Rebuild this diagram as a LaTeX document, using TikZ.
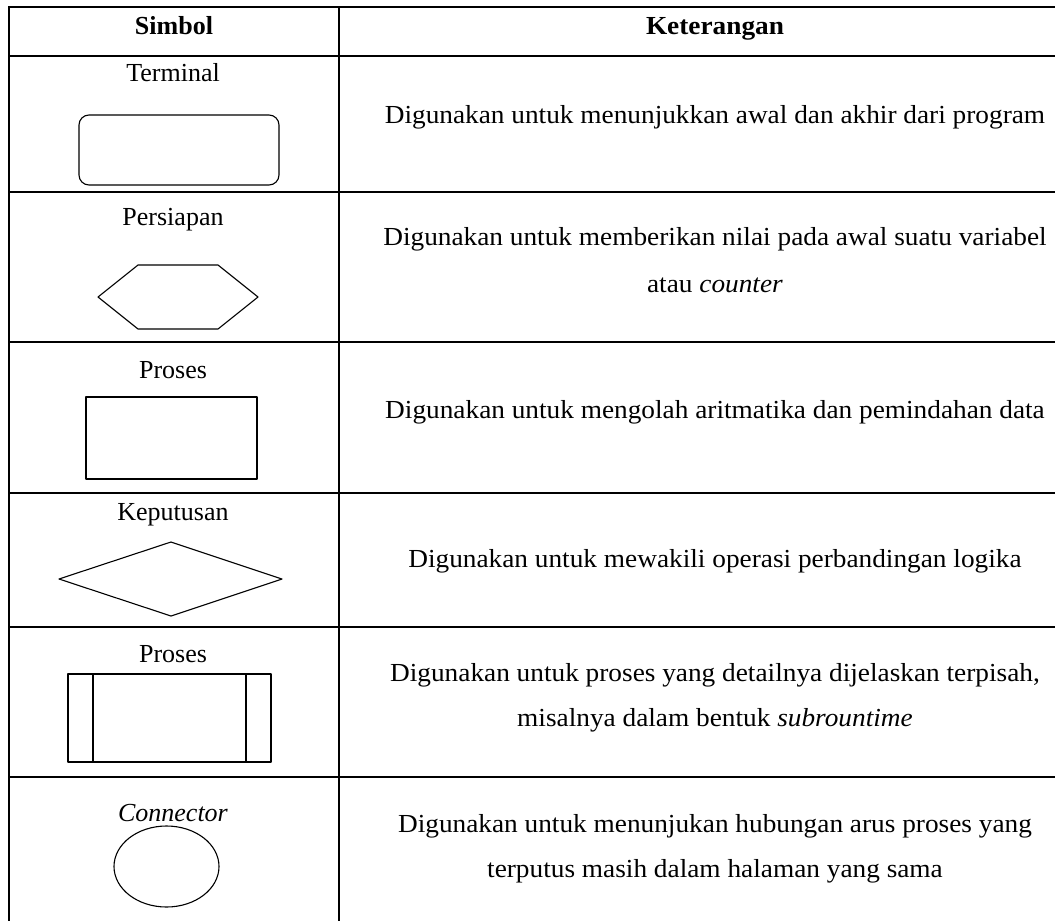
\documentclass[tikz,border=0pt]{standalone}
\usepackage{fontspec}
\setmainfont{Liberation Serif}
\newfontfamily\descfont[FakeStretch=1.05]{Liberation Serif}
\begin{document}
\begin{tikzpicture}[x=1pt, y=-1pt,
    grid line/.style={line width=1.6pt},
    shape line/.style={line width=1.1pt, line join=round},
    desc/.style={font=\descfont\fontsize{26}{30}\selectfont},
    every node/.style={anchor=base, inner sep=0pt, font=\fontsize{26}{30}\selectfont}]
        \useasboundingbox (0,0) rectangle (1055,921);
        % table
        \draw [grid line] (1060,7) -- (9,7) -- (9,925);
        \draw [grid line] (339,7) -- (339,925);
        \draw [grid line] (9,56) -- (1060,56);
        \draw [grid line] (9,192) -- (1060,192);
        \draw [grid line] (9,342) -- (1060,342);
        \draw [grid line] (9,493) -- (1060,493);
        \draw [grid line] (9,627) -- (1060,627);
        \draw [grid line] (9,777) -- (1060,777);
        % header
        \node (hsimbol) at (174,34) {\bfseries Simbol};
        \node [desc] (hket) at (715,34) {\bfseries Keterangan};
        % terminal
        \node (lterm) at (173,81) {Terminal};
        \draw [shape line, rounded corners=10] (79,115) rectangle (279,185);
        \node [desc] (dterm) at (715,123) {Digunakan untuk menunjukkan awal dan akhir dari program};
        % persiapan
        \node (lprep) at (173,225) {Persiapan};
        \draw [shape line] (98,297) -- (138,265) -- (218,265) -- (258,297) -- (218,329) -- (138,329) -- cycle;
        \node [desc] (dprep) at (715,245) {Digunakan untuk memberikan nilai pada awal suatu variabel};
        \node [desc] (dprepb) at (715,292) {atau \textit{counter}};
        % proses
        \node (lproc) at (173,378) {Proses};
        \draw [shape line] (86,397) rectangle (257,479);
        \node [desc] (dproc) at (715,418) {Digunakan untuk mengolah aritmatika dan pemindahan data};
        % keputusan
        \node (ldec) at (173,520) {Keputusan};
        \draw [shape line] (59,579) -- (171,542) -- (282,579) -- (171,616) -- cycle;
        \node [desc] (ddec) at (715,567) {Digunakan untuk mewakili operasi perbandingan logika};
        % proses terdefinisi
        \node (lsub) at (173,662) {Proses};
        \draw [shape line] (68,674) rectangle (271,762);
        \draw [shape line] (93,674) -- (93,762);
        \draw [shape line] (246,674) -- (246,762);
        \node [desc] (dsub) at (715,681) {Digunakan untuk proses yang detailnya dijelaskan terpisah,};
        \node [desc] (dsubb) at (715,726) {misalnya dalam bentuk \textit{subrountime}};
        % connector
        \node (lconn) at (173,821) {\textit{Connector}};
        \draw [shape line] (166.5,866.5) ellipse [x radius=52.5, y radius=40.5];
        \node [desc] (dconn) at (715,832) {Digunakan untuk menunjukan hubungan arus proses yang};
        \node [desc] (dconnb) at (715,877) {terputus masih dalam halaman yang sama};
      \end{tikzpicture}
\end{document}
